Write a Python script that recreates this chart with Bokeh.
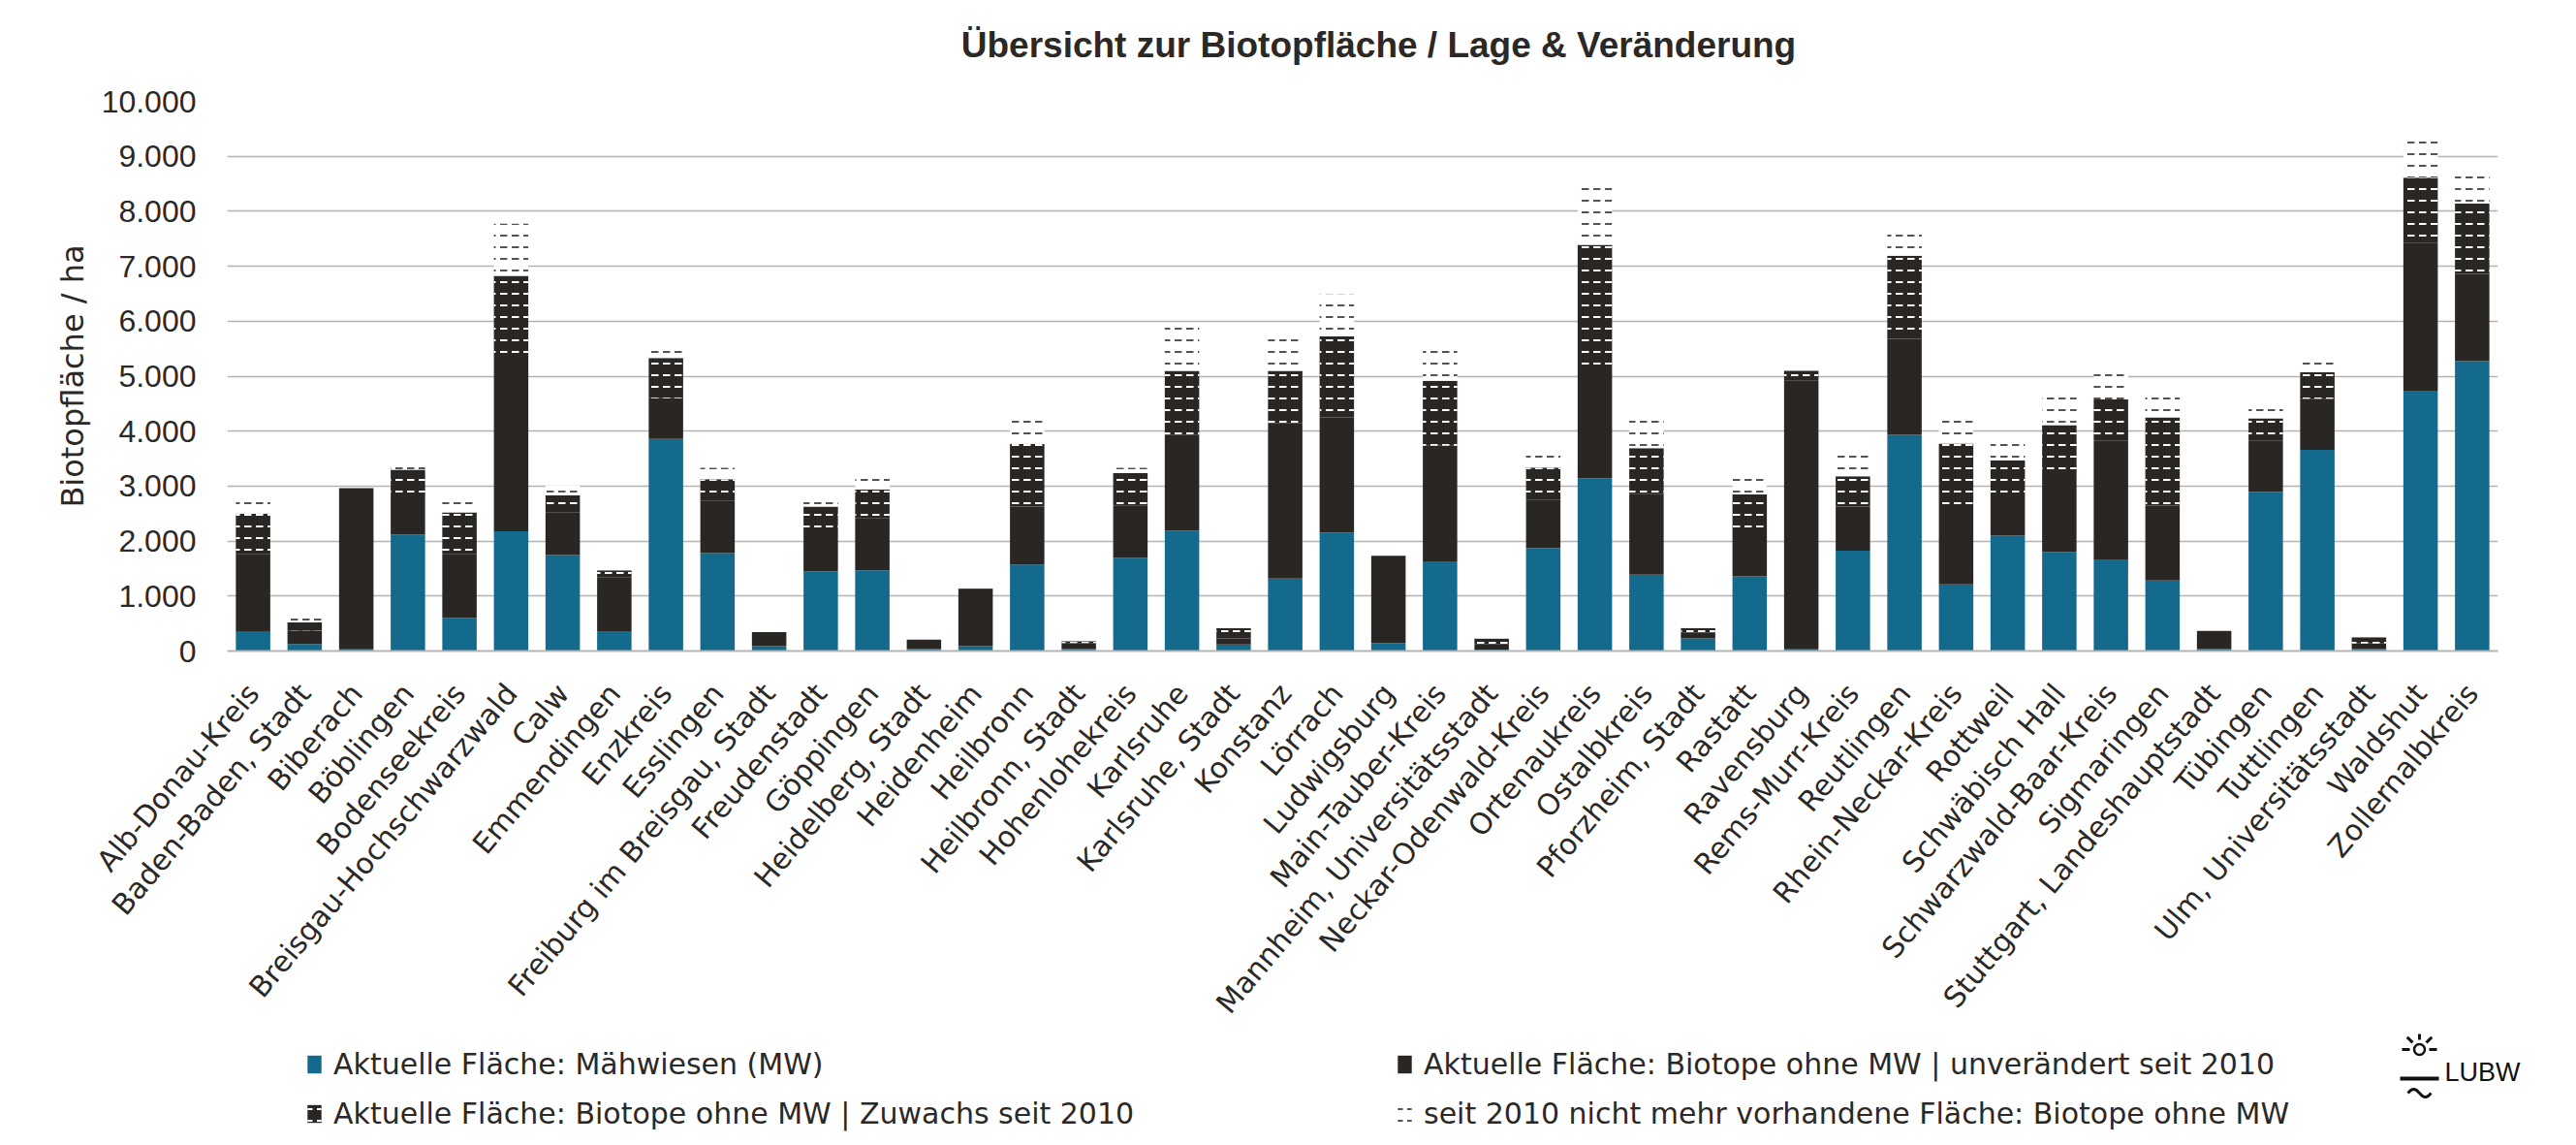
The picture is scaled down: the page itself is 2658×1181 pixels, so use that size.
from bokeh.plotting import figure
from bokeh.models import (FactorRange, Range1d, Legend, LegendItem, FixedTicker,
                          Label, ColumnDataSource)
from bokeh.layouts import column
from bokeh.transform import stack
from bokeh.embed import file_html
from bokeh.resources import INLINE
import math

districts = [
    "Alb-Donau-Kreis", "Baden-Baden, Stadt", "Biberach", "Böblingen", "Bodenseekreis",
    "Breisgau-Hochschwarzwald", "Calw", "Emmendingen", "Enzkreis", "Esslingen",
    "Freiburg im Breisgau, Stadt", "Freudenstadt", "Göppingen", "Heidelberg, Stadt",
    "Heidenheim", "Heilbronn", "Heilbronn, Stadt", "Hohenlohekreis", "Karlsruhe",
    "Karlsruhe, Stadt", "Konstanz", "Lörrach", "Ludwigsburg", "Main-Tauber-Kreis",
    "Mannheim, Universitätsstadt", "Neckar-Odenwald-Kreis", "Ortenaukreis", "Ostalbkreis",
    "Pforzheim, Stadt", "Rastatt", "Ravensburg", "Rems-Murr-Kreis", "Reutlingen",
    "Rhein-Neckar-Kreis", "Rottweil", "Schwäbisch Hall", "Schwarzwald-Baar-Kreis",
    "Sigmaringen", "Stuttgart, Landeshauptstadt", "Tübingen", "Tuttlingen",
    "Ulm, Universitätsstadt", "Waldshut", "Zollernalbkreis",
]

# Aktuelle Fläche: Mähwiesen (MW)
mw = [350, 130, 30, 2115, 600, 2180, 1745, 363, 3860, 1780,
      86, 1452, 1469, 35, 86, 1575, 35, 1699, 2185, 121,
      1320, 2153, 140, 1630, 20, 1873, 3145, 1387, 231, 1356,
      43, 1825, 3935, 1214, 2098, 1803, 1665, 1283, 35, 2896,
      3659, 35, 4734, 5272]
# Aktuelle Fläche: Biotope ohne MW | unverändert seit 2010
unchanged = [1410, 245, 2935, 735, 1160, 3155, 780, 980, 737, 956,
             260, 639, 950, 172, 1040, 1054, 110, 943, 1751, 110,
             2828, 2099, 1594, 2105, 100, 876, 1977, 1466, 110, 840,
             4872, 803, 1746, 1318, 752, 1486, 2167, 1364, 329, 936,
             931, 100, 2696, 1588]
# Aktuelle Fläche: Biotope ohne MW | Zuwachs seit 2010
gain = [740, 145, 0, 450, 760, 1490, 310, 127, 732, 392,
        0, 536, 519, 0, 10, 1140, 35, 595, 1162, 185,
        949, 1472, 0, 1180, 105, 590, 2269, 839, 80, 651,
        182, 553, 1509, 1243, 618, 821, 746, 1602, 0, 399,
        479, 115, 1180, 1280]
# seit 2010 nicht mehr vorhandene Fläche: Biotope ohne MW
lost = [300, 110, 0, 150, 280, 950, 175, 35, 160, 207,
        0, 167, 288, 0, 10, 433, 30, 98, 844, 10,
        745, 760, 0, 705, 5, 323, 1058, 505, 25, 377,
        0, 493, 486, 543, 416, 532, 601, 502, 0, 197,
        318, 50, 820, 510]

series_labels = [
    "Aktuelle Fläche: Mähwiesen (MW)",
    "Aktuelle Fläche: Biotope ohne MW | unverändert seit 2010",
    "Aktuelle Fläche: Biotope ohne MW | Zuwachs seit 2010",
    "seit 2010 nicht mehr vorhandene Fläche: Biotope ohne MW",
]
title_text = "Übersicht zur Biotopfläche / Lage & Veränderung"

y_ticks = [0, 1000, 2000, 3000, 4000, 5000, 6000, 7000, 8000, 9000, 10000]
y_tick_labels = ["0", "1.000", "2.000", "3.000", "4.000", "5.000", "6.000",
                 "7.000", "8.000", "9.000", "10.000"]

BLUE = "#136a8c"
DARK = "#2a2624"
TEXT = "#2b2826"
GRID = "#b3b3b3"
LOST_HATCH = "#555555"

TOTAL_W = 2650
H_TITLE = 80
H_MAIN = 986
H_LEG = 107


def strip(height):
    f = figure(width=TOTAL_W, height=height, x_range=Range1d(0, TOTAL_W),
               y_range=Range1d(0, height), output_backend="svg", toolbar_location=None,
               min_border=0, x_axis_location=None, y_axis_location=None)
    f.outline_line_color = None
    f.xgrid.grid_line_color = None
    f.ygrid.grid_line_color = None
    f.frame_align = False
    return f


# ---- title strip ----
t = strip(H_TITLE)
t.add_layout(Label(x=1422, y=H_TITLE - 46, text=title_text, text_font="Liberation Sans",
                   text_font_size="37px", text_font_style="bold", text_color=TEXT,
                   text_align="center", text_baseline="middle"))

# ---- main chart ----
src = ColumnDataSource(dict(district=districts, mw=mw, unch=unchanged, gain=gain, lost=lost))

p = figure(x_range=FactorRange(*districts), y_range=Range1d(0, 10000),
           width=TOTAL_W, height=H_MAIN, output_backend="svg", toolbar_location=None,
           min_border_left=234, min_border_right=TOTAL_W - 2577,
           min_border_top=104 - H_TITLE,
           min_border_bottom=H_MAIN + H_TITLE - 680)
p.outline_line_color = None
p.background_fill_color = "white"
p.frame_align = False

W = 0.667
bar_styles = [
    dict(fill_color=BLUE, line_color=None),
    dict(fill_color=DARK, line_color=None),
    dict(fill_color=DARK, line_color=None, hatch_pattern="horizontal_dash",
         hatch_color="white", hatch_weight=2, hatch_scale=12),
    dict(fill_color="white", line_color=None, hatch_pattern="horizontal_dash",
         hatch_color=LOST_HATCH, hatch_weight=2, hatch_scale=12),
]
cols = ["mw", "unch", "gain", "lost"]
for i, c in enumerate(cols):
    p.vbar(x="district", bottom=stack(*cols[:i]), top=stack(*cols[:i + 1]),
           width=W, source=src, **bar_styles[i])

# y axis
p.yaxis.ticker = FixedTicker(ticks=y_ticks)
p.yaxis.major_label_overrides = {t_: l for t_, l in zip(y_ticks, y_tick_labels)}
p.yaxis.axis_line_color = None
p.yaxis.major_tick_line_color = None
p.yaxis.minor_tick_line_color = None
p.yaxis.major_label_text_font = "Liberation Sans"
p.yaxis.major_label_text_font_size = "32px"
p.yaxis.major_label_text_color = TEXT
p.yaxis.major_label_standoff = 26
p.yaxis.axis_label = "Biotopfläche / ha"
p.yaxis.axis_label_text_font = "DejaVu Sans"
p.yaxis.axis_label_text_font_size = "32px"
p.yaxis.axis_label_text_font_style = "normal"
p.yaxis.axis_label_text_color = TEXT
p.yaxis.axis_label_standoff = 8

p.ygrid.ticker = FixedTicker(ticks=y_ticks)
p.ygrid.grid_line_color = GRID
p.ygrid.grid_line_width = 1.5
p.xgrid.grid_line_color = None

# x axis
p.xaxis.axis_line_color = GRID
p.xaxis.axis_line_width = 2
p.xaxis.major_tick_line_color = None
p.xaxis.minor_tick_line_color = None
p.xaxis.major_label_orientation = math.radians(50)
p.xaxis.major_label_text_font = "DejaVu Sans"
p.xaxis.major_label_text_font_size = "30px"
p.xaxis.major_label_text_color = TEXT
p.xaxis.major_label_standoff = 32

# ---- legend strip ----
q = strip(H_LEG)
# legend-only renderers (one point each, placed off the visible range)
leg_r = [q.vbar(x=[-100], bottom=[-100], top=[-90], width=1, **st) for st in bar_styles]

common = dict(label_text_font="DejaVu Sans", label_text_font_size="30px",
              label_text_color=TEXT, glyph_width=18, glyph_height=23,
              label_standoff=11, spacing=16, padding=0, margin=0,
              border_line_color=None, background_fill_alpha=0, orientation="vertical")
leg_left = Legend(items=[LegendItem(label=series_labels[0], renderers=[leg_r[0]]),
                         LegendItem(label=series_labels[2], renderers=[leg_r[2]])],
                  location=(315, 7), **common)
leg_right = Legend(items=[LegendItem(label=series_labels[1], renderers=[leg_r[1]]),
                          LegendItem(label=series_labels[3], renderers=[leg_r[3]])],
                   location=(1440, 7), **common)
q.add_layout(leg_left)
q.add_layout(leg_right)

# LUBW logo (decoration)
sx, sy = 2496, 91
q.scatter(x=[sx], y=[sy], size=11, marker="circle", fill_color=None,
          line_color="#111111", line_width=2.5)
ang = [math.radians(a) for a in (0, 45, 90, 135, 180)]
q.segment(x0=[sx + 10 * math.cos(a) for a in ang], y0=[sy + 10 * math.sin(a) for a in ang],
          x1=[sx + 18 * math.cos(a) for a in ang], y1=[sy + 18 * math.sin(a) for a in ang],
          line_color="#111111", line_width=3)
q.segment(x0=[sx - 20], y0=[61], x1=[sx + 20], y1=[61], line_color="#111111", line_width=4)
wx = [sx - 12 + k * 1.5 for k in range(17)]
q.line(x=wx, y=[46 + 4 * math.sin((xx - (sx - 12)) / 24 * 2 * math.pi) for xx in wx],
       line_color="#111111", line_width=3)
q.add_layout(Label(x=2522, y=68, text="LUBW", text_font="Liberation Sans",
                   text_font_size="27px", text_color="#111111", text_align="left",
                   text_baseline="middle"))

layout = column(t, p, q, spacing=0)
open("out.html", "w").write(file_html(layout, INLINE))
